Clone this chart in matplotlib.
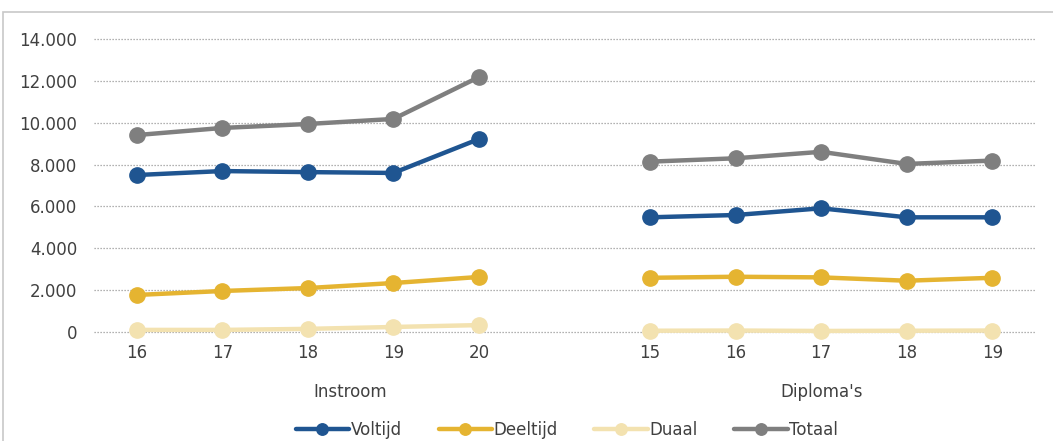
import matplotlib.pyplot as plt
import numpy as np
from matplotlib.patches import Rectangle

plt.rcParams['font.family'] = ['DejaVu Sans']

# data
instroom_years = ['16', '17', '18', '19', '20']
diploma_years = ['15', '16', '17', '18', '19']
groups = ['Instroom', "Diploma's"]

voltijd_in = [7500, 7690, 7640, 7600, 9220]
deeltijd_in = [1770, 1960, 2100, 2340, 2630]
duaal_in = [100, 100, 150, 240, 330]
totaal_in = [9410, 9750, 9940, 10180, 12180]

voltijd_dip = [5480, 5590, 5910, 5480, 5480]
deeltijd_dip = [2590, 2640, 2610, 2450, 2590]
duaal_dip = [60, 70, 50, 60, 70]
totaal_dip = [8140, 8300, 8610, 8030, 8190]

series = [
    ('Voltijd', voltijd_in, voltijd_dip, '#1F5591'),
    ('Deeltijd', deeltijd_in, deeltijd_dip, '#E5B431'),
    ('Duaal', duaal_in, duaal_dip, '#F3E2B0'),
    ('Totaal', totaal_in, totaal_dip, '#7F7F7F'),
]

text_col = '#404040'

fig = plt.figure(figsize=(10.53, 4.41), dpi=100)
ax = fig.add_axes([94 / 1053, 1 - 332 / 441, (1035 - 94) / 1053, (332 - 39) / 441])

# 5 instroom slots, one empty slot, 5 diploma slots
n_in = len(instroom_years)
x = np.arange(n_in + 1 + len(diploma_years))
labels = instroom_years + [''] + diploma_years

for name, vin, vdip, col in series:
    vals = list(vin) + [np.nan] + list(vdip)
    ax.plot(x, vals, color=col, lw=3.2, marker='o', ms=11,
            solid_capstyle='round', label=name, clip_on=False, zorder=3)

ax.set_xlim(-0.5, len(x) - 0.5)
ax.set_ylim(0, 14000)
ax.set_yticks(np.arange(0, 14001, 2000))
ax.set_yticklabels(['0'] + [f'{v // 1000}.000' for v in range(2000, 14001, 2000)])
ax.set_xticks(x)
ax.set_xticklabels(labels)
ax.yaxis.grid(True, color='#999999', ls=(0, (1, 1.4)), lw=0.9)
for gl in ax.get_ygridlines():
    gl.set_clip_on(False)
ax.set_axisbelow(True)
for s in ax.spines.values():
    s.set_visible(False)
ax.tick_params(axis='both', length=0, labelsize=12, labelcolor=text_col)
ax.tick_params(axis='x', pad=9)
ax.tick_params(axis='y', pad=12)

# group labels under the year labels
ax.text((-0.5 + n_in + 0.5) / 2, -0.205, groups[0], transform=ax.get_xaxis_transform(),
        ha='center', va='center', fontsize=12, color=text_col)
ax.text((n_in + 0.5 + len(x) - 0.5) / 2, -0.205, groups[1], transform=ax.get_xaxis_transform(),
        ha='center', va='center', fontsize=12, color=text_col)

fig.legend(loc='center', bbox_to_anchor=(567 / 1053, 1 - 430 / 441), ncol=4,
           frameon=False, fontsize=12, labelcolor=text_col, handlelength=3.2,
           handletextpad=0.1, columnspacing=2.2, markerscale=0.75)

fig.patches.append(Rectangle((3 / 1053, -0.01), 1.1, 1 - 12 / 441 + 0.01,
                             transform=fig.transFigure, fill=False,
                             ec='#c8c8c8', lw=1.2))

fig.savefig('out.png', dpi=100)
